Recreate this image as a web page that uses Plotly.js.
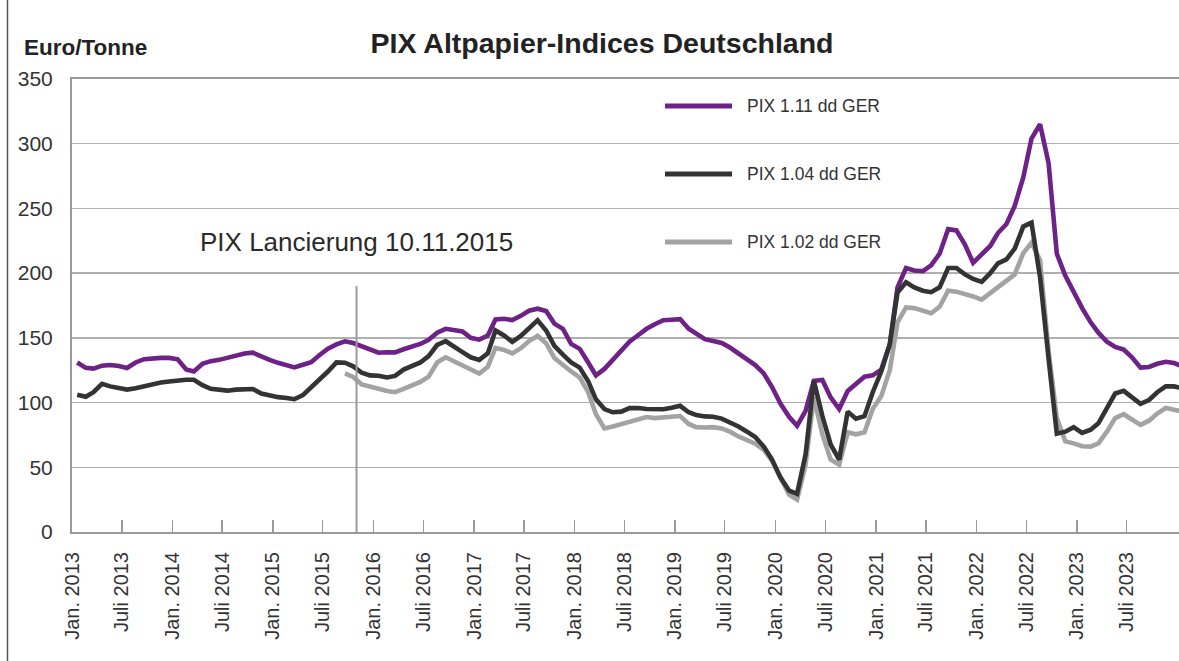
<!DOCTYPE html>
<html>
<head>
<meta charset="utf-8">
<script src="https://cdn.plot.ly/plotly-3.0.1.min.js"></script>
<style>
  html, body { margin: 0; padding: 0; background: #ffffff; }
  #chart { width: 1179px; height: 661px; }
</style>
</head>
<body>
<div id="chart"></div>
<script>
// ---- Data (Euro/Tonne), monthly from Jan. 2013 ----
const firstYear = 2013;

const pix111 = [
  131, 126.8, 126.2, 128.5, 129, 128.3, 126.7, 131, 133.5, 134.2,
  134.5, 134.5, 133.4, 125.6, 124, 130, 132, 133, 134.7, 136.5,
  137.9, 138.6, 135.6, 133, 130.7, 129, 127.2, 129.2, 131.2, 136.8,
  141.7, 145, 147.3, 146, 143.3, 140.5, 138.5, 138.9, 138.8, 141.2,
  143, 145.3, 148.5, 154, 157, 156, 155, 150, 148.6, 151.8,
  164.2, 164.8, 163.7, 167, 171, 172.5, 170.7, 161, 157, 145.3,
  141.5, 131, 121, 126, 133, 141, 147, 152, 157, 160.5,
  163.6, 164, 164.5, 157, 153.5, 149, 147.5, 146, 142.5, 138,
  132.7, 129, 122.5, 112, 99, 89, 82, 93.5, 116.8, 117.4,
  104, 95, 109, 114, 120, 121, 125.5, 145, 189, 204,
  202, 201.5, 206, 215, 234, 233, 222, 208, 214, 221,
  231, 238, 252, 274, 304, 315, 285, 215, 198, 185,
  173, 162, 154, 147, 143, 141, 135, 127, 127.5, 130,
  131.5, 130.5, 128
];

const pix104 = [
  106, 104.5, 108, 114.5, 112.5, 111, 110, 111, 112.5, 114.8,
  115.5, 116.3, 117.4, 117.6, 117.6, 113.5, 110.6, 109.5, 109.2, 110,
  110.6, 110.5, 107, 105.2, 104.2, 103.6, 102.6, 105.8, 111.5, 118.4,
  124, 131, 130.8, 128, 123, 121, 120.7, 119.4, 120.6, 125.5,
  127.9, 131, 135.9, 144.5, 147.4, 142.9, 139, 135, 133, 138,
  155.7, 151.8, 146.9, 151.5, 158, 163.5, 155.7, 143.8, 137, 131,
  127, 116.5, 102.5, 95, 92.5, 93, 95.7, 95.8, 95, 94.8,
  94.8, 96, 97.5, 92.5, 90.3, 89.3, 89, 87.6, 85, 81.5,
  77.5, 73.4, 66, 56, 42, 32, 29.5, 60, 116.8, 89.6,
  67.6, 56, 93, 87.5, 89.5, 108, 124, 145, 185, 193,
  189, 186.4, 185.3, 189, 204, 204, 199, 195.5, 193.2, 200,
  207.6, 210.7, 219, 236, 239, 197, 134, 76, 77.5, 81,
  76.5, 79, 84, 95, 107, 109, 104, 99, 102, 108,
  112.5, 112.5, 111
];

// PIX 1.02 starts in Sept. 2015 (month index 32)
const pix102StartIndex = 32;
const pix102 = [
  122.5, 119.8, 114, 112.8, 110.7, 109, 108, 110.5,
  113.5, 116, 120, 131, 135, 132, 129, 125.5, 122.5, 127.7,
  142.2, 140.7, 138, 142, 147.5, 151.5, 145.9, 134.5, 129, 124,
  119.5, 108, 91, 80, 81.5, 83.5, 85.5, 87.3, 88.8, 88,
  88.4, 89, 89.6, 83.5, 81, 80.7, 81, 80, 77.5, 73.8,
  70.5, 68.2, 63.5, 55, 41.7, 28.8, 25, 52, 104, 75.4,
  56, 52, 77, 75.5, 77, 95, 105, 125, 162, 173.5,
  173, 171, 169, 174, 186.5, 185.7, 184, 182, 179.5, 184.5,
  189, 194, 199, 215.5, 223.5, 210, 140, 88, 70, 68.5,
  66.3, 66, 68.5, 77.5, 88, 91, 87, 82.8, 86, 91.5,
  95.8, 94.5, 93
];

const seriesNames = ['PIX 1.11 dd GER', 'PIX 1.04 dd GER', 'PIX 1.02 dd GER'];

const tickVals = [
  '2013-01-01','2013-07-01','2014-01-01','2014-07-01','2015-01-01','2015-07-01',
  '2016-01-01','2016-07-01','2017-01-01','2017-07-01','2018-01-01','2018-07-01',
  '2019-01-01','2019-07-01','2020-01-01','2020-07-01','2021-01-01','2021-07-01',
  '2022-01-01','2022-07-01','2023-01-01','2023-07-01'
];
const tickText = [
  'Jan. 2013','Juli 2013','Jan. 2014','Juli 2014','Jan. 2015','Juli 2015',
  'Jan. 2016','Juli 2016','Jan. 2017','Juli 2017','Jan. 2018','Juli 2018',
  'Jan. 2019','Juli 2019','Jan. 2020','Juli 2020','Jan. 2021','Juli 2021',
  'Jan. 2022','Juli 2022','Jan. 2023','Juli 2023'
];

const launchDate = '2015-11-01';
const launchLabel = 'PIX Lancierung 10.11.2015';
const launchLabelValue = 224;
const launchLineTop = 190;

// ---- monthly dates (points drawn late in each month) ----
const dayOfMonth = '20';
const dates = pix111.map((_, k) => {
  const y = firstYear + Math.floor(k / 12);
  const m = (k % 12) + 1;
  return y + '-' + String(m).padStart(2, '0') + '-' + dayOfMonth;
});

const colors = ['#6e2187', '#333333', '#a3a3a3'];
const FONT = 'Liberation Sans, Arial, Helvetica, sans-serif';
const lw = 4.6;

const traces = [
  { x: dates, y: pix111, name: seriesNames[0], type: 'scatter', mode: 'lines',
    line: { color: colors[0], width: lw }, showlegend: false },
  { x: dates.slice(pix102StartIndex), y: pix102, name: seriesNames[2], type: 'scatter', mode: 'lines',
    line: { color: colors[2], width: lw }, showlegend: false },
  { x: dates, y: pix104, name: seriesNames[1], type: 'scatter', mode: 'lines',
    line: { color: colors[1], width: lw }, showlegend: false }
];

// pixel helpers for layout placement (plot area: x 72..1179, y 79..532)
const L = 72, R = 1179, T = 79, B = 532;
const px = v => (v - L) / (R - L);
const py = v => (B - v) / (B - T);

const legendRows = [106, 174, 242];
const legendOrder = [0, 1, 2];

const shapes = [
  // launch marker line
  { type: 'line', xref: 'x', yref: 'y', x0: launchDate, x1: launchDate, y0: 0, y1: launchLineTop,
    line: { color: '#9a9a9a', width: 2 } },
  // outer frame line at left
  { type: 'line', xref: 'paper', yref: 'paper', x0: px(7.5), x1: px(7.5), y0: py(661), y1: py(0),
    line: { color: '#555555', width: 1.5 } }
];
const annotations = [
  { xref: 'paper', yref: 'paper', x: px(22), y: py(47), xanchor: 'left', yanchor: 'middle',
    text: 'Euro/Tonne', showarrow: false,
    font: { family: FONT, size: 22.5, color: '#222222', weight: 'bold' } },
  { xref: 'x', yref: 'y', x: launchDate, y: launchLabelValue, xanchor: 'center', yanchor: 'middle',
    text: launchLabel, showarrow: false,
    font: { family: FONT, size: 26, color: '#2a2a2a' } }
];
legendOrder.forEach((si, i) => {
  const yy = py(legendRows[i]);
  shapes.push({ type: 'line', xref: 'paper', yref: 'paper', x0: px(665), x1: px(732), y0: yy, y1: yy,
    line: { color: colors[si], width: 5 } });
  annotations.push({ xref: 'paper', yref: 'paper', x: px(745), y: yy, xanchor: 'left', yanchor: 'middle',
    text: seriesNames[si], showarrow: false,
    font: { family: FONT, size: 17.5, color: '#333333' } });
});

const layout = {
  width: 1179, height: 661, autosize: false,
  paper_bgcolor: '#ffffff', plot_bgcolor: '#ffffff',
  margin: { l: L, r: 1179 - R, t: T, b: 661 - B, pad: 0 },
  font: { family: FONT, color: '#333333' },
  title: { text: 'PIX Altpapier-Indices Deutschland', x: 602 / 1179, xref: 'container',
    y: 1 - 43 / 661, yref: 'container', xanchor: 'center', yanchor: 'middle',
    font: { family: FONT, size: 28.5, color: '#222222', weight: 'bold' } },
  xaxis: {
    type: 'date', range: ['2013-01-01', '2024-01-07'],
    showgrid: false, zeroline: false,
    showline: true, linecolor: '#9a9a9a', linewidth: 2, mirror: true,
    ticks: 'inside', ticklen: 12, tickwidth: 1.5, tickcolor: '#9a9a9a',
    tickmode: 'array', tickvals: tickVals, ticktext: tickText,
    tickangle: -90, ticklabelstandoff: 10, ticklabeloverflow: 'allow',
    tickfont: { family: FONT, size: 20, color: '#333333' }
  },
  yaxis: {
    range: [0, 350], tickmode: 'linear', tick0: 0, dtick: 50,
    showgrid: true, gridcolor: '#b0b0b0', gridwidth: 1.5,
    zeroline: false, showline: true, linecolor: '#9a9a9a', linewidth: 2,
    ticks: '', ticklabelstandoff: 13,
    tickfont: { family: FONT, size: 21, color: '#333333' }
  },
  showlegend: false,
  shapes: shapes,
  annotations: annotations
};

Plotly.newPlot('chart', traces, layout, { staticPlot: true, displayModeBar: false });
</script>
</body>
</html>
